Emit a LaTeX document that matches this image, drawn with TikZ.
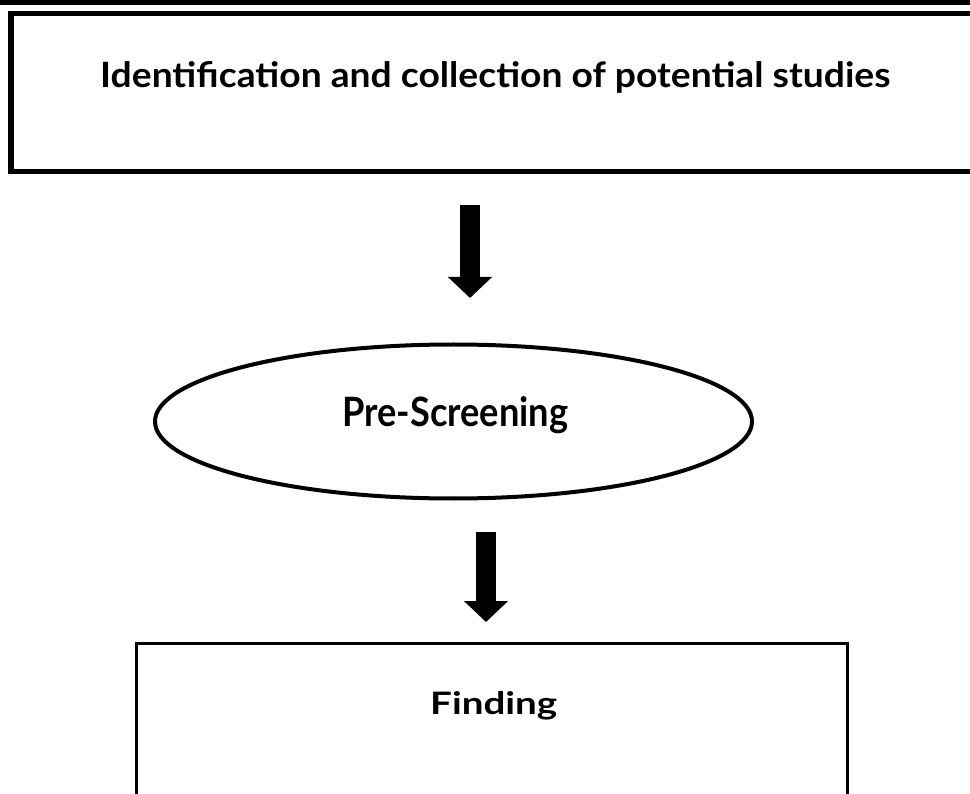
\documentclass[tikz,border=0pt]{standalone}
\usepackage{fontspec}
\usepackage{graphicx}
\setmainfont{Lato}
\usetikzlibrary{arrows.meta,shapes.geometric}
\tikzset{
  frameline/.style={draw=black, line width=5.5pt, line join=miter},
  boxline/.style={draw=black, line width=3pt, line join=miter},
  lbl/.style={anchor=base west, inner sep=0pt, font=\bfseries},
  blockarrow/.style={line width=20.5pt, -{Triangle[width=43pt,length=21pt]}, black},
  oval/.style={ellipse, draw=black, line width=4pt, minimum width=597pt, minimum height=154pt, inner sep=0pt}
}
\begin{document}
\begin{tikzpicture}[x=1pt,y=-1pt]
\useasboundingbox (0,0) rectangle (970,794);
\clip (0,0) rectangle (970,794);
% top band
\fill[black] (0,0) rectangle (970,5);
% top open box
\draw[frameline] (990,13.5) -- (11,13.5) -- (11,171.5) -- (990,171.5);
\node[lbl] (ident) at (100,88) {\resizebox{790pt}{26pt}{Identification and collection of potential studies}};
% arrow 1
\coordinate (a1s) at (470,205);
\coordinate (a1e) at (470,298);
\draw[blockarrow] (a1s) -- (a1e);
% ellipse
\node[oval] (pre) at (453.5,421.5) {};
\node[lbl] (pretext) at (342,427) {\resizebox{226pt}{30pt}{Pre-Screening}};
% arrow 2
\coordinate (a2s) at (486,532);
\coordinate (a2e) at (486,622);
\draw[blockarrow] (a2s) -- (a2e);
% finding box
\draw[boxline] (136.5,810) -- (136.5,643.5) -- (847,643.5) -- (847,810);
\node[lbl] (find) at (430,714) {\resizebox{127pt}{23pt}{Finding}};
\end{tikzpicture}
\end{document}
